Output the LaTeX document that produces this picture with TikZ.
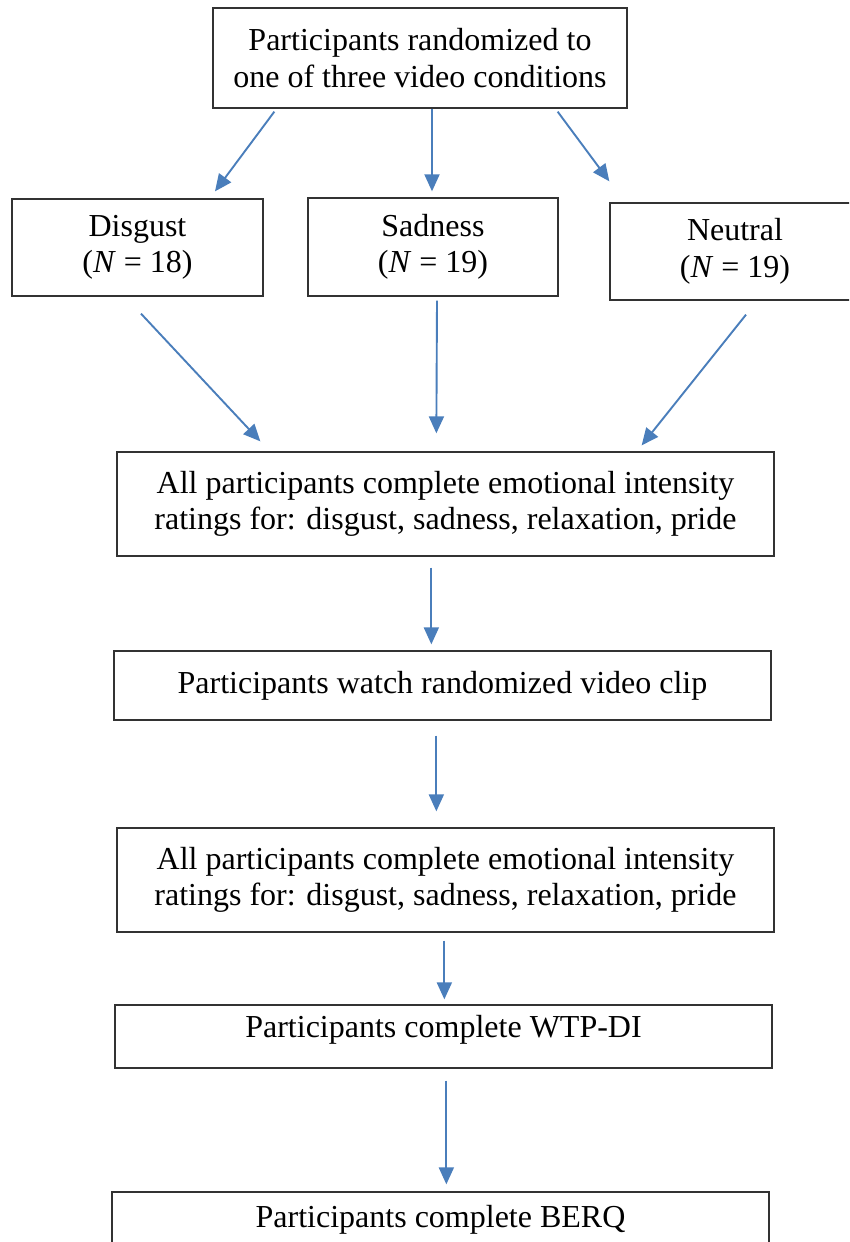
\documentclass[tikz,border=0pt]{standalone}
\usepackage{fontspec}
\setmainfont{Liberation Serif}
\usetikzlibrary{positioning,arrows.meta,calc}
\definecolor{flowblue}{RGB}{74,126,187}
\definecolor{boxgray}{RGB}{50,50,50}
\newcommand{\nsize}[1]{(\textit{N}~=~#1)}

\begin{document}
\begin{tikzpicture}[x=1pt,y=-1pt,
    box/.style={draw=boxgray,line width=1.3pt,inner sep=0pt,align=center,
        font=\fontsize{32}{36.5}\selectfont},
    flow/.style={draw=flowblue,line width=1.9pt,-{Triangle[length=17pt,width=15pt]}}
]
\clip (0,0) rectangle (849,1242);

% boxes
\node[box,minimum width=414pt,minimum height=100pt] (rand) at (420,58)
    {Participants randomized to\\one of three video conditions};
\node[box,minimum width=251pt,minimum height=97pt] (disgust) at (137.5,247.5) {Disgust\\\nsize{18}};
\node[box,minimum width=250pt,minimum height=98pt] (sadness) at (433,247) {Sadness\\\nsize{19}};
\node[box,minimum width=250pt,minimum height=97pt] (neutral) at (735,251.5) {Neutral\\\nsize{19}};
\node[box,minimum width=657pt,minimum height=104pt] (rateA) at (445.5,504)
    {All participants complete emotional intensity\\ratings for: disgust, sadness, relaxation, pride};
\node[box,minimum width=657pt,minimum height=69pt] (watch) at (442.5,685.5)
    {Participants watch randomized video clip};
\node[box,minimum width=657pt,minimum height=104pt] (rateB) at (445.5,880)
    {All participants complete emotional intensity\\ratings for: disgust, sadness, relaxation, pride};
\node[box,minimum width=657pt,minimum height=63pt,text height=22pt,text depth=21pt] (wtp) at (443.5,1036.5)
    {Participants complete WTP-DI};
\node[box,minimum width=657pt,minimum height=56pt] (berq) at (440.5,1220)
    {Participants complete BERQ};

% arrows
\draw[flow] ($(rand.south west)+(62,3)$) -- ($(disgust.north)+(77.5,-7)$);
\draw[flow] ($(rand.south -| sadness.north)+(-1,0)$) -- ($(sadness.north)+(-1,-6)$);
\draw[flow] ($(rand.south east)+(-70,3)$) -- ($(neutral.north west)+(0,-21)$);
\draw[flow] ($(disgust.south)+(3.5,17)$) -- ($(rateA.north west)+(144,-10)$);
\draw[flow] ($(sadness.south)+(4,4)$) -- ($(rateA.north west)+(320,-18)$);
\draw[flow] ($(neutral.south)+(11,14)$) -- ($(rateA.north east)+(-133,-6)$);
\draw[flow] ($(rateA.south west)+(315,11)$) -- ($(watch.north west)+(318,-6)$);
\draw[flow] ($(watch.south west)+(323,15)$) -- ($(rateB.north west)+(320,-16)$);
\draw[flow] ($(rateB.south west)+(328,8)$) -- ($(wtp.north west)+(330,-5)$);
\draw[flow] ($(wtp.south west)+(332,12)$) -- ($(berq.north west)+(335,-7)$);

\end{tikzpicture}
\end{document}
